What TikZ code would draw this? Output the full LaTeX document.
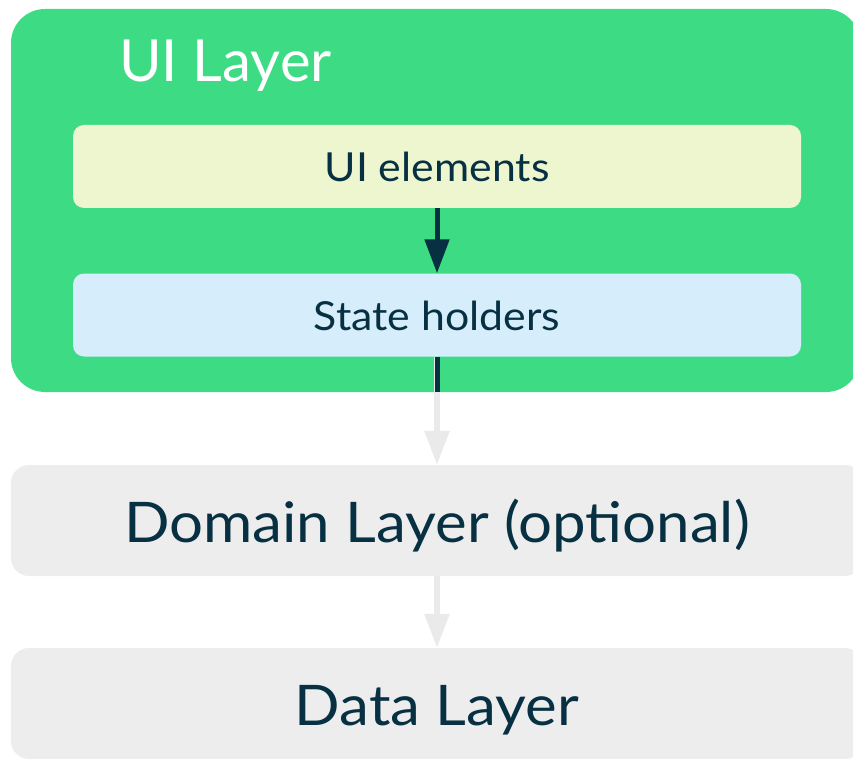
\documentclass[tikz,border=0pt]{standalone}
\usepackage{fontspec}
\setmainfont{Lato}
\newfontfamily\widelato[FakeStretch=1.07]{Lato}
\usetikzlibrary{arrows.meta,calc}
\definecolor{androidgreen}{HTML}{3DDC84}
\definecolor{uielfill}{HTML}{EDF6CE}
\definecolor{statefill}{HTML}{D6EEFC}
\definecolor{layergray}{HTML}{EDEDED}
\definecolor{arrowgray}{HTML}{EAEAEA}
\definecolor{navy}{HTML}{073042}
\tikzset{
  box/.style={rectangle, draw=none, inner sep=0pt, anchor=center},
  innerbox/.style={box, rounded corners=11pt, minimum width=728pt, minimum height=83pt, text height=31pt, text depth=0pt, text=navy, font=\widelato\fontsize{40}{48}\selectfont},
  layerbox/.style={box, fill=layergray, rounded corners=18pt, minimum width=852pt, minimum height=111pt, text height=43pt, text depth=0pt, text=navy, font=\widelato\fontsize{56}{66}\selectfont},
  darkarrow/.style={draw=navy, line width=5pt, -{Triangle[length=34pt,width=24pt]}},
  grayarrow/.style={draw=arrowgray, line width=6pt, -{Triangle[length=34pt,width=24pt]}},
}
\begin{document}
\begin{tikzpicture}[x=1pt,y=-1pt]
\useasboundingbox (0,0) rectangle (853,759);
\clip (0,0) rectangle (853,759);
% UI layer container
\node[box, fill=androidgreen, rounded corners=34pt, minimum width=849pt, minimum height=383pt] (uilayer) at (435.5,200.5) {};
\node[anchor=base west, text=white, inner sep=0pt, font=\fontsize{58}{68}\selectfont] (uilabel) at (119,82) {UI Layer};
\node[innerbox, fill=uielfill] (uiel) at (437,166.5) {UI elements};
\node[innerbox, fill=statefill] (state) at (437,315) {State holders};
% lower layers
\node[layerbox] (domain) at (437,520.5) {Domain Layer (optional)};
\node[layerbox] (data) at (437,703.5) {Data Layer};
% connectors
\draw[darkarrow] (uiel.south) -- (state.north);
\coordinate (gbottom) at (state.south |- uilayer.south);
\draw[grayarrow] (state.south) -- (domain.north);
\draw[draw=navy, line width=5pt] (state.south) -- (gbottom);
\draw[grayarrow] (domain.south) -- (data.north);
\end{tikzpicture}
\end{document}
